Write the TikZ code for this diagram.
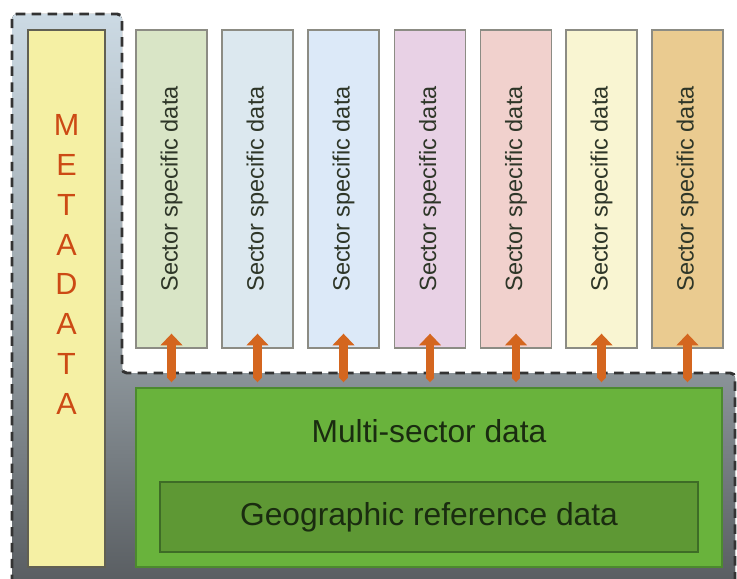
\documentclass[tikz,border=0pt]{standalone}
\usepackage{fontspec}
\setmainfont{Liberation Sans}
\usepackage{xcolor}
\usepackage{tikz}
\usetikzlibrary{arrows.meta,backgrounds}
\definecolor{regiontop}{HTML}{CCDAE4}
\definecolor{regionmid}{HTML}{9AA4AA}
\definecolor{regionbot}{HTML}{55595D}
\definecolor{metafill}{HTML}{F5F0A4}
\definecolor{metaink}{HTML}{CC4A14}
\definecolor{boxline}{HTML}{8C8C84}
\definecolor{sectorink}{HTML}{2E3628}
\definecolor{secA}{HTML}{D9E5C6}
\definecolor{secB}{HTML}{DCE8EF}
\definecolor{secC}{HTML}{DCE9F8}
\definecolor{secD}{HTML}{E8D1E5}
\definecolor{secE}{HTML}{F1D1CD}
\definecolor{secF}{HTML}{F9F5D2}
\definecolor{secG}{HTML}{EACB90}
\definecolor{multifill}{HTML}{69B33C}
\definecolor{multiline}{HTML}{4C8A2E}
\definecolor{geofill}{HTML}{5E9834}
\definecolor{geoline}{HTML}{3E6C26}
\definecolor{greenink}{HTML}{1A2C10}
\definecolor{arrowfill}{HTML}{D4661F}
\tikzstyle{box}=[rectangle,draw=boxline,line width=1.2pt,inner sep=0pt]
\tikzstyle{sector}=[box,minimum width=60.4pt,minimum height=270.3pt]
\tikzstyle{sectortext}=[rotate=90,text=sectorink,font=\fontsize{20}{24}\selectfont]
\tikzstyle{meta}=[box,fill=metafill,draw=boxline!80!metafill!60!black,minimum width=65.5pt,minimum height=456.5pt]
\tikzstyle{metatext}=[text=metaink,align=center,font=\fontsize{26}{33.9}\selectfont]
\tikzstyle{greentext}=[text=greenink,font=\fontsize{27}{32}\selectfont]
\tikzstyle{updown}=[draw=arrowfill,line width=7.5pt,
  {Triangle[width=19pt,length=10pt,line width=0pt]}-{Triangle[width=7.5pt,length=4pt,line width=0pt]},
  shorten <=-12.75pt,shorten >=4.25pt]
\tikzstyle{outline}=[draw=black!80,line width=2.5pt,dash pattern=on 8pt off 5.5pt,rounded corners=4pt]

\begin{document}
\begin{tikzpicture}[x=0.85pt,y=-0.85pt]
        \useasboundingbox (0,0) rectangle (737,579);
        \clip (0,0) rectangle (737,579);

        \fill [top color=regiontop,bottom color=regionbot,middle color=regionmid,rounded corners=4pt]
          (12,600) -- (12,14) -- (122,14) -- (122,373) -- (735,373) -- (735,600) -- cycle;
        \draw [outline] (12,600) -- (12,14) -- (122,14) -- (122,373) -- (735,373) -- (735,600);

        \node at (66.5,298.5) [meta] (meta) {};
        \node at (66.5,264.5) [metatext] (metalabel) {M\\E\\T\\A\\D\\A\\T\\A};

        \node at (171.5,189) [sector,fill=secA,label={[sectortext]center:Sector specific data}] (s1) {};
        \node at (257.5,189) [sector,fill=secB,label={[sectortext]center:Sector specific data}] (s2) {};
        \node at (343.5,189) [sector,fill=secC,label={[sectortext]center:Sector specific data}] (s3) {};
        \node at (430,189)   [sector,fill=secD,label={[sectortext]center:Sector specific data}] (s4) {};
        \node at (516,189)   [sector,fill=secE,label={[sectortext]center:Sector specific data}] (s5) {};
        \node at (601.5,189) [sector,fill=secF,label={[sectortext]center:Sector specific data}] (s6) {};
        \node at (687.5,189) [sector,fill=secG,label={[sectortext]center:Sector specific data}] (s7) {};

        \node at (429,477.5) [box,fill=multifill,draw=multiline,minimum width=498.1pt,minimum height=152.2pt] (multi) {};
        \node at (429,431) [greentext] (multilabel) {Multi-sector data};
        \node at (429,517) [box,fill=geofill,draw=geoline,minimum width=457.3pt,minimum height=59.5pt,greentext] (geo) {Geographic reference data};

        \draw [updown] (s1.south) -- (s1.south |- multi.north);
        \draw [updown] (s2.south) -- (s2.south |- multi.north);
        \draw [updown] (s3.south) -- (s3.south |- multi.north);
        \draw [updown] (s4.south) -- (s4.south |- multi.north);
        \draw [updown] (s5.south) -- (s5.south |- multi.north);
        \draw [updown] (s6.south) -- (s6.south |- multi.north);
        \draw [updown] (s7.south) -- (s7.south |- multi.north);
      \end{tikzpicture}
\end{document}
